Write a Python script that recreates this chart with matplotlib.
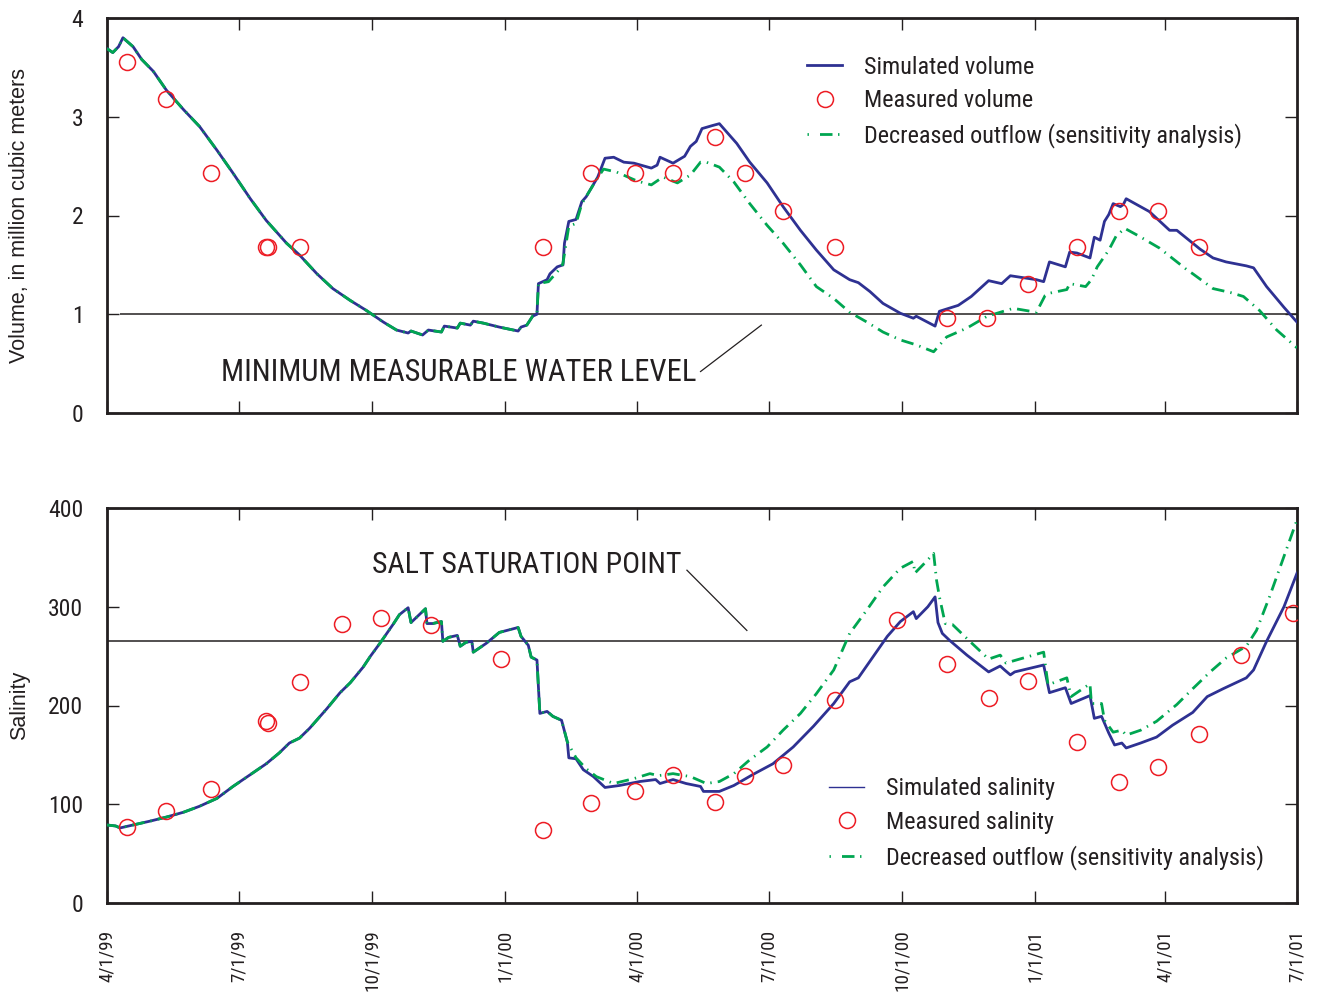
import numpy as np
import pandas as pd
import matplotlib
matplotlib.use("Agg")
import matplotlib.pyplot as plt
from matplotlib.lines import Line2D
from matplotlib import font_manager
from matplotlib.font_manager import FontProperties

# ---------------- data ----------------
START = "1999-04-01"
END = "2001-07-01"

# days after 1 April 1999
vol_sim_days = [0,4,6,8,11,18,24,32,41,53,64,76,87,99,110,124,133,145,156,168,179,191,200,208,210,218,222,231,233,242,244,251,253,260,271,284,286,290,294,297,298,304,306,311,315,316,319,324,328,331,335,339,344,350,357,364,376,380,382,391,399,403,407,411,418,423,435,444,456,467,479,490,502,513,519,527,536,548,557,559,572,575,588,597,609,618,624,633,642,647,651,662,665,670,679,682,686,689,692,695,700,702,704,720,734,739,755,764,773,787,792,801,813,822]
vol_sim = [3.69,3.65,3.68,3.71,3.80,3.71,3.58,3.46,3.27,3.07,2.90,2.66,2.43,2.17,1.95,1.72,1.60,1.41,1.26,1.14,1.04,0.92,0.84,0.81,0.83,0.79,0.84,0.82,0.88,0.86,0.91,0.89,0.93,0.91,0.87,0.83,0.87,0.89,0.98,1.00,1.31,1.35,1.41,1.48,1.50,1.72,1.94,1.96,2.14,2.19,2.29,2.39,2.58,2.59,2.54,2.53,2.48,2.51,2.59,2.53,2.60,2.70,2.75,2.88,2.91,2.93,2.73,2.54,2.33,2.09,1.85,1.65,1.45,1.35,1.32,1.23,1.11,1.01,0.96,0.98,0.88,1.03,1.09,1.18,1.34,1.31,1.39,1.37,1.35,1.33,1.53,1.48,1.63,1.62,1.57,1.78,1.75,1.94,2.01,2.12,2.09,2.11,2.17,2.04,1.85,1.85,1.66,1.57,1.53,1.49,1.47,1.28,1.07,0.92]

# decreased outflow: identical to simulated up to this day, then diverges
vol_split_day = 298
vol_dec_days = [305,314,315,319,324,328,338,343,352,366,376,384,394,403,410,414,423,433,444,456,467,479,490,502,513,525,536,548,559,571,580,594,608,626,642,648,650,663,665,676,680,684,692,697,703,713,727,746,750,764,776,785,796,808,822]
vol_dec = [1.33,1.48,1.52,1.89,1.92,2.12,2.36,2.47,2.44,2.35,2.31,2.39,2.33,2.41,2.54,2.54,2.49,2.34,2.12,1.90,1.72,1.50,1.28,1.16,1.02,0.92,0.82,0.74,0.69,0.62,0.77,0.86,0.98,1.06,1.02,1.19,1.21,1.25,1.31,1.28,1.35,1.48,1.65,1.79,1.87,1.79,1.67,1.45,1.41,1.26,1.22,1.18,1.04,0.84,0.66]

meas_vol_days = [14,41,72,110,111,133,301,334,365,391,420,441,467,503,580,608,636,670,699,726,754]
meas_vol = [3.55,3.18,2.43,1.68,1.68,1.68,1.68,2.43,2.43,2.43,2.80,2.43,2.05,1.68,0.96,0.96,1.31,1.68,2.05,2.05,1.68]

sal_sim_days = [0,6,9,18,30,41,53,64,76,87,99,110,119,126,133,140,152,161,168,177,182,189,198,202,208,210,220,221,225,231,232,236,242,244,248,252,253,262,271,284,286,291,293,297,299,304,308,314,318,319,324,329,336,344,354,368,379,382,391,400,410,412,423,433,446,460,474,488,502,513,519,529,539,548,557,559,567,572,574,577,582,594,609,617,620,624,627,647,651,662,666,679,682,687,692,696,701,704,714,725,736,750,760,771,787,792,801,813,822]
sal_sim = [79,78,76,79,83,87,92,98,106,118,130,141,152,162,167,177,197,213,223,239,250,264,283,292,299,284,298,283,283,285,265,269,271,260,264,265,254,263,274,279,270,261,249,246,192,194,189,185,163,147,146,135,128,117,119,123,125,121,125,121,118,113,113,119,130,141,158,179,202,224,228,249,270,285,295,288,300,310,284,273,266,251,234,240,236,231,234,241,213,218,202,210,187,189,172,160,162,157,162,168,180,193,209,217,228,236,265,300,334]

sal_split_day = 318
sal_dec_days = [324,331,338,350,364,375,381,391,403,414,423,433,444,456,467,479,490,502,513,525,536,548,557,558,566,571,573,575,579,584,596,609,617,621,628,647,650,663,666,679,680,687,689,695,701,704,714,725,739,750,762,773,787,794,803,813,822]
sal_dec = [147,136,128,121,126,131,129,131,128,121,123,131,145,158,175,192,212,236,273,297,320,339,346,334,346,354,327,310,283,282,265,247,251,243,246,254,221,228,209,222,202,202,185,173,175,170,175,184,201,217,234,248,260,276,310,351,388]

meas_sal_days = [14,41,72,110,111,133,162,189,224,272,301,334,365,391,420,441,467,503,546,580,609,636,670,699,726,754,783,819]
meas_sal = [77,93,115,184,182,224,283,289,282,247,74,101,113,130,102,129,140,206,287,242,208,225,163,123,138,171,251,294]

min_water_level = 1.0
salt_saturation = 265

tick_dates = ["1999-04-01","1999-07-01","1999-10-01","2000-01-01","2000-04-01",
              "2000-07-01","2000-10-01","2001-01-01","2001-04-01","2001-07-01"]
tick_labels = ["4/1/99","7/1/99","10/1/99","1/1/00","4/1/00",
               "7/1/00","10/1/00","1/1/01","4/1/01","7/1/01"]

vol_legend = ["Simulated volume", "Measured volume", "Decreased outflow (sensitivity analysis)"]
sal_legend = ["Simulated salinity", "Measured salinity", "Decreased outflow (sensitivity analysis)"]

# ---------------- fonts ----------------
def find_condensed():
    prefs = ["liberation sans narrow", "roboto condensed", "open sans condensed",
             "noto sans condensed", "dejavu sans condensed"]
    flist = font_manager.fontManager.ttflist
    def plain(f):
        fn = f.fname.lower()
        return (f.style == "normal" and f.weight in (400, "normal", "regular")
                and "bold" not in fn and "italic" not in fn and "oblique" not in fn
                and "light" not in fn and "medium" not in fn and "semi" not in fn)
    for p in prefs:
        for f in flist:
            if f.name.lower() == p and plain(f):
                return f.fname
    for p in ["narrow", "condensed"]:
        for f in flist:
            fn = f.fname.lower()
            if p in fn and plain(f) and "sans" in fn and "mono" not in fn and "cjk" not in fn:
                return f.fname
    for f in flist:
        if f.stretch in ("condensed", "semi-condensed") and plain(f):
            return f.fname
    return None

COND_FILE = find_condensed()
names = {f.name for f in font_manager.fontManager.ttflist}
REG = "Liberation Sans" if "Liberation Sans" in names else "DejaVu Sans"

def cond(size):
    if COND_FILE:
        return FontProperties(fname=COND_FILE, size=size)
    return FontProperties(family="DejaVu Sans", stretch="condensed", size=size)

BLUE = "#2e3192"
GREEN = "#00a651"
RED = "#ed1c24"
INK = "#231f20"
DASH = (0, (4.5, 2.2, 0.5, 2.2))

fig = plt.figure(figsize=(13.19, 9.98), dpi=100)
ax1 = fig.add_axes([107/1319, 1-413/998, 1190/1319, 395/998])
ax2 = fig.add_axes([107/1319, 1-903/998, 1190/1319, 395/998])

def style(ax, ymax, ystep, showx):
    ax.set_xlim(pd.Timestamp(START), pd.Timestamp(END))
    ax.set_ylim(0, ymax)
    ax.set_yticks(np.arange(0, ymax + ystep/2, ystep))
    ax.set_xticks(pd.to_datetime(tick_dates))
    if showx:
        ax.set_xticklabels(tick_labels, rotation=90, va="top")
        for lab in ax.get_xticklabels():
            lab.set_fontproperties(cond(13.8))
    else:
        ax.set_xticklabels([])
    for lab in ax.get_yticklabels():
        lab.set_fontproperties(cond(17))
    ax.tick_params(axis="both", which="major", direction="in", length=8.5, width=1.0,
                   top=True, right=True, color=INK, labelcolor=INK)
    ax.tick_params(axis="y", pad=17)
    ax.tick_params(axis="x", pad=19)
    for s in ax.spines.values():
        s.set_linewidth(2.0)
        s.set_color(INK)

def days_to_dates(days):
    t0 = pd.Timestamp(START)
    return t0 + pd.to_timedelta(np.asarray(days, dtype=float), unit="D")

# ---------- volume ----------
vd = np.array(vol_sim_days); vs = np.array(vol_sim)
pre = vd <= vol_split_day
vdec_days = np.concatenate([vd[pre], vol_dec_days])
vdec_vals = np.concatenate([vs[pre], vol_dec])

ax1.hlines(min_water_level, days_to_dates([9])[0], pd.Timestamp(END), color=INK, lw=1.1, zorder=1)
ax1.plot(days_to_dates(vd), vs, color=BLUE, lw=2.0, zorder=3)
ax1.plot(days_to_dates(vdec_days), vdec_vals, color=GREEN, lw=2.0, ls=DASH, zorder=4)
ax1.plot(days_to_dates(meas_vol_days), meas_vol, ls="none", marker="o", ms=11.5,
         mfc="none", mec=RED, mew=1.1, zorder=5)
style(ax1, 4, 1, False)
ax1.set_ylabel("Volume, in million cubic meters", fontsize=15.5, family=REG, color=INK)
ax1.yaxis.set_label_coords(-0.0648, 0.5)

ax1.text(days_to_dates([407])[0], 0.41, "MINIMUM MEASURABLE WATER LEVEL",
         fontproperties=cond(22), color=INK, ha="right", va="center")
ax1.plot(days_to_dates([410, 452]), [0.42, 0.89], color=INK, lw=0.9)

h1 = [Line2D([], [], color=BLUE, lw=2.0),
      Line2D([], [], ls="none", marker="o", ms=11.5, mfc="none", mec=RED, mew=1.1),
      Line2D([], [], color=GREEN, lw=2.0, ls=(0, (0.5, 4, 4.5, 2)))]
leg1 = ax1.legend(h1, vol_legend, loc="upper left", bbox_to_anchor=(0.5885, 0.905),
                  frameon=False, prop=cond(17.4), handlelength=1.45,
                  handletextpad=0.88, labelspacing=0.45, borderpad=0, borderaxespad=0)
for t in leg1.get_texts():
    t.set_color(INK)

# ---------- salinity ----------
sd = np.array(sal_sim_days); ss = np.array(sal_sim)
pre = sd <= sal_split_day
sdec_days = np.concatenate([sd[pre], sal_dec_days])
sdec_vals = np.concatenate([ss[pre], sal_dec])

ax2.axhline(salt_saturation, color=INK, lw=1.1, zorder=1)
ax2.plot(days_to_dates(sd), ss, color=BLUE, lw=2.0, zorder=3)
ax2.plot(days_to_dates(sdec_days), sdec_vals, color=GREEN, lw=2.0, ls=DASH, zorder=4)
ax2.plot(days_to_dates(meas_sal_days), meas_sal, ls="none", marker="o", ms=11.5,
         mfc="none", mec=RED, mew=1.1, zorder=5)
style(ax2, 400, 100, True)
ax2.set_ylabel("Salinity", fontsize=15.5, family=REG, color=INK)
ax2.yaxis.set_label_coords(-0.0648, 0.5)

ax2.text(days_to_dates([397])[0], 342, "SALT SATURATION POINT",
         fontproperties=cond(21.5), color=INK, ha="right", va="center")
ax2.plot(days_to_dates([400.6, 442]), [337, 276], color=INK, lw=0.9)

h2 = [Line2D([], [], color=BLUE, lw=1.0),
      Line2D([], [], ls="none", marker="o", ms=11.5, mfc="none", mec=RED, mew=1.1),
      Line2D([], [], color=GREEN, lw=2.0, ls=(0, (0.5, 4, 4.5, 2)))]
leg2 = ax2.legend(h2, sal_legend, loc="upper left", bbox_to_anchor=(0.607, 0.319),
                  frameon=False, prop=cond(17.4), handlelength=1.45,
                  handletextpad=0.88, labelspacing=0.45, borderpad=0, borderaxespad=0)
for t in leg2.get_texts():
    t.set_color(INK)

fig.savefig("out.png", dpi=100)
